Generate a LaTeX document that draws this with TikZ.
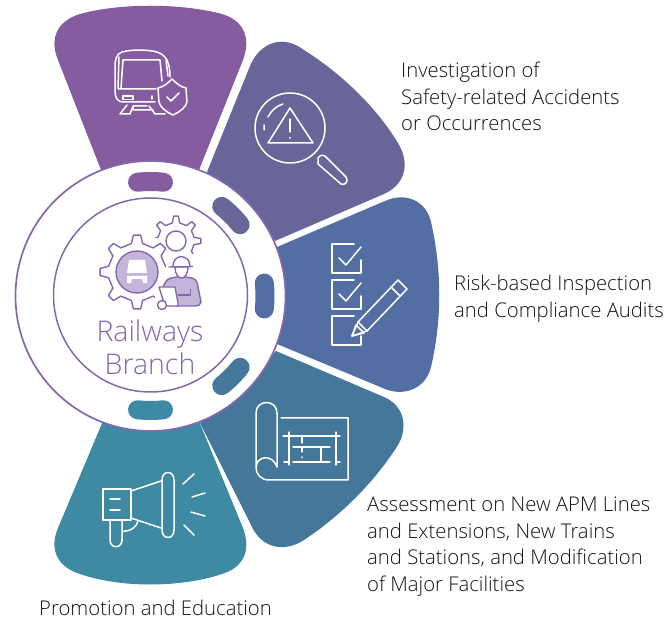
\documentclass[tikz,border=0pt]{standalone}
\usepackage{fontspec}
\setmainfont{Open Sans Light}
\definecolor{cPurple}{HTML}{855C9F}
\definecolor{cViolet}{HTML}{6A6598}
\definecolor{cBlue}{HTML}{536EA3}
\definecolor{cSteel}{HTML}{44779A}
\definecolor{cTeal}{HTML}{3F8AA3}
\definecolor{cLine}{HTML}{8468AE}
\definecolor{cPale}{HTML}{C3B5D9}
\definecolor{cText}{HTML}{141414}
\tikzset{
  icon/.style={draw=white,line width=1.5pt,line join=round,line cap=round},
  gearline/.style={draw=cLine,line width=1.4pt,line join=round},
  label/.style={anchor=north west,inner sep=0pt,align=left,text=cText,font=\fontsize{20.3}{26.5}\selectfont},
  pill/.style={line cap=round,line width=19pt},
}
% centre x, centre y, root radius, tip radius, teeth, rotation
\newcommand{\cogpath}[6]{%
  \foreach \k [evaluate=\k as \a using {#6+(\k)*360/#5}] in {1,...,#5} {
    -- ([shift={(#1,#2)}]\a-90/#5:#3) -- ([shift={(#1,#2)}]\a-45/#5:#4) -- ([shift={(#1,#2)}]\a+45/#5:#4) -- ([shift={(#1,#2)}]\a+90/#5:#3)
  }}
% angle of a pill on the ring
\newcommand{\ringpill}[2]{\draw[pill,#1] ([shift={(150.5,296)}]#2-6.5:114.5) arc[start angle=#2-6.5,end angle=#2+6.5,radius=114.5];}
\begin{document}
\begin{tikzpicture}[x=1pt,y=-1pt]
\useasboundingbox (0,0) rectangle (670,620);
% sectors
\fill[cPurple] (101,170) -- (58,60) .. controls (48,36) and (60,20) .. (80,14) .. controls (120,3) and (180,3) .. (222,14) .. controls (242,20) and (252,36) .. (243,60) -- (199,170) -- cycle;
\fill[cViolet] (207,172) -- (250,66) .. controls (258,46) and (280,32) .. (304,50) .. controls (345,76) and (378,110) .. (398,143) .. controls (410,163) and (406,184) .. (384,194) -- (275,241) -- cycle;
\fill[cBlue] (277,247) -- (385,201) .. controls (405,192) and (426,200) .. (431,222) .. controls (442,270) and (442,320) .. (431,367) .. controls (426,388) and (405,397) .. (385,389) -- (277,344) -- cycle;
\fill[cSteel] (276,351) -- (384,397) .. controls (405,406) and (408,428) .. (398,445) .. controls (376,480) and (342,515) .. (304,540) .. controls (284,553) and (262,548) .. (252,527) -- (200,423) -- cycle;
\fill[cTeal] (103,421) -- (58,528) .. controls (48,552) and (60,568) .. (80,574) .. controls (120,588) and (180,588) .. (222,574) .. controls (242,568) and (252,552) .. (243,528) -- (199,421) -- cycle;
% rings
\node (outerring) [circle,draw=cLine,fill=white,line width=1.7pt,minimum size=270pt,inner sep=0pt] at (150.5,296) {};
\node (innerring) [circle,draw=cLine,fill=white,line width=1.5pt,minimum size=194pt,inner sep=0pt] at (150.5,295) {};
% pills (y axis points down: angles run clockwise on the page)
\ringpill{cPurple}{-90}
\ringpill{cViolet}{-45}
\ringpill{cBlue}{0}
\ringpill{cSteel}{45}
\ringpill{cTeal}{90}
% train icon
\draw[icon] (170,77) .. controls (170,62) and (166,54) .. (155,51.5) .. controls (145,49.5) and (131,49.5) .. (122,52) .. controls (116,54) and (115,60) .. (115,68) -- (115,90) .. controls (115,98) and (117,102) .. (124,102) -- (155,102);
\draw[icon] (118,89) -- (156,89) (123,60) -- (160,60) -- (162,81) (123,60) -- (121,88) (119,57) -- (118,88) (166,60) -- (168,76);
\draw[icon] (123,96) rectangle (133,99.5);
\draw[icon] (152,96) -- (152,99);
\draw[icon] (127,105) -- (120,114) -- (130,114) -- (133,106) -- (133,110) -- (153,110) (133,106) -- (147,106) (149,106) -- (155,114) -- (165,114);
\draw[icon] (172,79) .. controls (167,84) and (163,87) .. (158,88) -- (159,102) .. controls (160,107) and (166,112) .. (173,115) .. controls (180,112) and (186,107) .. (187,102) -- (186,88) .. controls (181,87) and (177,84) .. (172,79) -- cycle;
\draw[icon] (167,97) -- (171,101) -- (179,93);
% magnifier icon
\draw[icon] (290,128) circle (35);
\draw[icon] (268,117) .. controls (271,111) and (276,106) .. (283,104) (264,125) -- (264,130);
\draw[icon] (290,108) -- (268,143) -- (313,143) -- cycle;
\draw[icon] (290,119) -- (290,132) (290,137.5) -- (290,138);
\draw[icon] (318,164) -- (318,158) .. controls (320,155) and (323,154) .. (326,157) -- (346,177) .. controls (349,181) and (345,186) .. (341,184) -- cycle;
% checklist icon
\draw[icon] (354,244) -- (332,244) -- (332,273) -- (361,273) -- (361,260);
\draw[icon] (339,258) -- (346,265) -- (361,247);
\draw[icon] (354,280) -- (332,280) -- (332,309) -- (361,309) -- (361,296);
\draw[icon] (339,294) -- (346,301) -- (361,283);
\draw[icon] (354,316) -- (332,316) -- (332,345) -- (361,345) -- (361,336);
\draw[icon] (352,336) -- (358,322) -- (398,280) -- (407,289) -- (367,331) -- cycle;
\draw[icon] (358,322) -- (367,331) (391,287) -- (400,296);
\draw[icon] (352,336) -- (356,325) -- (364,333) -- cycle;
% blueprint icon
\draw[icon] (281,418) -- (348,418) -- (348,480) -- (269,480) .. controls (261,480) and (256,474) .. (256,468) -- (256,413) .. controls (256,399) and (277,399) .. (277,413) -- (277,467) .. controls (272,453) and (256,456) .. (256,468);
\draw[icon,line width=1.3pt] (283,436) -- (340,436) (289,432) -- (289,465) (336,432) -- (336,465) (293,462) -- (330,462) (284,462) -- (289,462) (336,462) -- (340,462) (293,447) -- (330,447) (321,447) -- (321,462) (302,436) -- (302,443) (302,448) -- (302,452) (302,457) -- (302,457.3);
% megaphone icon
\draw[icon] (103,489) rectangle (131,520);
\draw[icon] (131,491) -- (161,481) (131,518) -- (161,528);
\draw[icon] (162,480) .. controls (162,470) and (174,470) .. (174,480) -- (174,530) .. controls (174,540) and (162,540) .. (162,530) -- cycle;
\draw[icon] (110,499) -- (120,499) (110,510) -- (120,510);
\draw[icon] (110,520) -- (110,540) .. controls (110,549) and (122,549) .. (122,540) -- (122,520);
\draw[icon] (122,531) .. controls (130,532) and (137,527) .. (138,521);
\draw[icon] (183,484) -- (194,474) (192,497) -- (205,493) (191,512) -- (205,516) (184,525) -- (194,535);
% gears
\draw[gearline] ([shift={(176,241)}]11.25:18.5) \cogpath{176}{241}{18.5}{25}{8}{0} -- cycle;
\fill[white] (137,272) circle (39);
\draw[gearline] (176,241) circle (10);
\draw[gearline] ([shift={(137,272)}]11.25:29) \cogpath{137}{272}{29}{37}{8}{0} -- cycle;
\draw[gearline,fill=cPale] (137,272) circle (21);
\path[fill=white] (129,260) -- (145,260) -- (147,273) -- (127,273) -- cycle;
\path[fill=white] (127,276) -- (147,276) -- (147,283) -- (143,283) -- (142,279) -- (132,279) -- (131,283) -- (127,283) -- cycle;
% worker
\fill[white] (166,254) -- (196,254) -- (205,310) -- (155,312) -- (155,284) -- (166,276) -- cycle;
\draw[gearline,fill=cPale] (163,287) .. controls (165,282) and (167,279) .. (171,278) -- (177,277) -- (186,277) -- (192,278) .. controls (196,279) and (198,283) .. (198,287) -- (201,302) .. controls (201,305) and (198,306) .. (195,306) -- (176,306) -- (168,300) -- cycle;
\draw[gearline,fill=white] (175,267) .. controls (175,274) and (178,278) .. (181.5,278) .. controls (185,278) and (188,274) .. (188,267) -- cycle;
\draw[gearline,fill=white] (173,266) .. controls (173,260) and (177,257) .. (181,256.5) .. controls (186,257) and (190,260) .. (190,266);
\draw[gearline] (168.5,267) -- (193,266.5);
\draw[gearline,fill=white] (159,287) -- (175,287) -- (178,303) -- (178,306) -- (165,306) -- cycle;
\draw[gearline,fill=white] (162,305) circle (4.5);
\draw[gearline] (178,295) -- (190.5,295) -- (190.5,289);
% centre text
\node (title) [inner sep=0pt,align=center,text=cLine,font=\fontsize{28.5}{33}\selectfont] at (150,347) {Railways\\Branch};
% labels
\node (lblA) [label] at (401,62) {Investigation of\\Safety-related Accidents\\or Occurrences};
\node (lblB) [label] at (454,275) {Risk-based Inspection\\and Compliance Audits};
\node (lblC) [label] at (367,497) {Assessment on New APM Lines\\and Extensions, New Trains\\and Stations, and Modification\\of Major Facilities};
\node (lblD) [label] at (39,600) {Promotion and Education};
\end{tikzpicture}
\end{document}
